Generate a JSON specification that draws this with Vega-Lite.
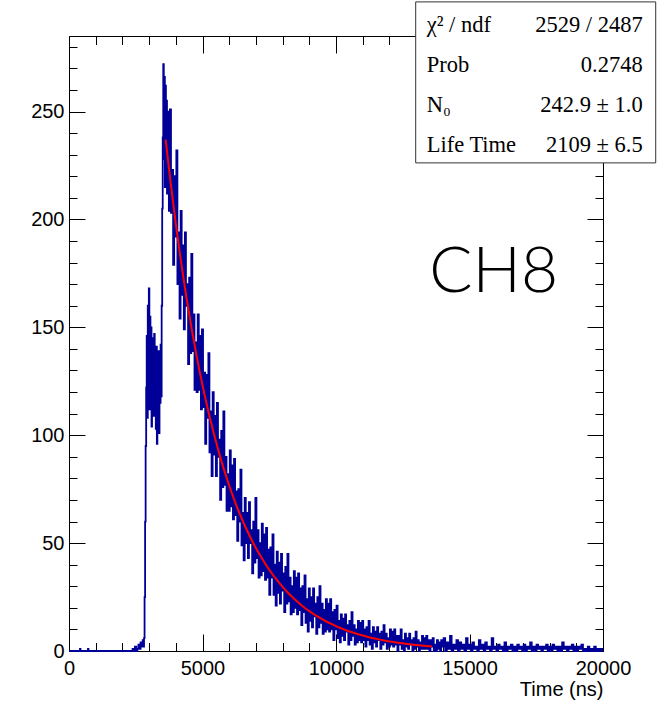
{
 "$schema": "https://vega.github.io/schema/vega-lite/v6.json",
 "width": 534, "height": 615,
 "autosize": {"type": "none"},
 "padding": {"left": 69, "top": 36, "right": 62, "bottom": 52},
 "background": "white",
 "config": {
  "view": {"stroke": "black", "strokeWidth": 1},
  "axis": {"grid": false, "domain": false, "tickColor": "black", "tickWidth": 1, "labelColor": "black", "labelFont": "Liberation Sans", "labelFontSize": 20, "titleFont": "Liberation Sans", "titleFontSize": 20, "titleFontWeight": "normal", "titleColor": "black", "labelFlush": false, "labelOverlap": false, "labelBound": false}
 },
 "datasets": {
  "hist": [
   {"t":0,"c":0},{"t":400,"c":0},{"t":420,"c":1},{"t":440,"c":0},{"t":700,"c":0},{"t":720,"c":1},{"t":740,"c":0},{"t":2360,"c":0},{"t":2400,"c":1},{"t":2440,"c":0},{"t":2500,"c":2},{"t":2540,"c":0},{"t":2580,"c":1},{"t":2620,"c":3},{"t":2660,"c":1},{"t":2700,"c":4},{"t":2740,"c":2},{"t":2780,"c":5},{"t":2800,"c":2},{"t":2820,"c":6},{"t":2840,"c":25},{"t":2860,"c":60},{"t":2880,"c":95},
   {"t":2900,"c":122},{"t":2920,"c":146},{"t":2940,"c":108},{"t":2960,"c":160},{"t":2980,"c":118},{"t":3000,"c":168},{"t":3020,"c":112},{"t":3040,"c":155},{"t":3060,"c":121},{"t":3080,"c":150},{"t":3100,"c":104},{"t":3120,"c":145},{"t":3140,"c":117},{"t":3160,"c":140},{"t":3180,"c":109},{"t":3200,"c":147},{"t":3220,"c":121},{"t":3240,"c":138},{"t":3260,"c":103},{"t":3280,"c":141},{"t":3300,"c":96},{"t":3320,"c":136},{"t":3340,"c":112},{"t":3360,"c":139},{"t":3380,"c":101},{"t":3400,"c":133},{"t":3420,"c":115},{"t":3440,"c":142},{"t":3460,"c":118},
   {"t":3480,"c":160},{"t":3500,"c":205},{"t":3520,"c":238},{"t":3540,"c":272},{"t":3560,"c":228},{"t":3580,"c":266},{"t":3600,"c":215},{"t":3620,"c":262},{"t":3640,"c":221},{"t":3660,"c":255},{"t":3680,"c":212},{"t":3700,"c":248},
   {"t":3720,"c":250},{"t":3760,"c":204},{"t":3800,"c":251},{"t":3840,"c":203},{"t":3880,"c":223},{"t":3920,"c":179},{"t":3960,"c":220},{"t":4000,"c":192},{"t":4040,"c":232},{"t":4080,"c":170},{"t":4120,"c":194},{"t":4160,"c":154},{"t":4200,"c":204},{"t":4240,"c":165},{"t":4280,"c":188},{"t":4320,"c":149},{"t":4360,"c":194},{"t":4400,"c":160},{"t":4440,"c":170},{"t":4480,"c":133},{"t":4520,"c":173},{"t":4560,"c":138},{"t":4600,"c":184},{"t":4640,"c":139},{"t":4680,"c":156},{"t":4720,"c":121},{"t":4760,"c":143},{"t":4800,"c":120},{"t":4840,"c":156},{"t":4880,"c":121},{"t":4920,"c":146},{"t":4960,"c":112},{"t":5000,"c":149},{"t":5040,"c":113},{"t":5080,"c":129},{"t":5120,"c":96},{"t":5160,"c":128},{"t":5200,"c":108},{"t":5240,"c":138},{"t":5280,"c":92},{"t":5320,"c":111},{"t":5360,"c":81},{"t":5400,"c":120},{"t":5440,"c":91},{"t":5480,"c":109},{"t":5520,"c":81},{"t":5560,"c":115},{"t":5600,"c":90},{"t":5640,"c":98},{"t":5680,"c":70},{"t":5720,"c":102},{"t":5760,"c":76},{"t":5800,"c":111},{"t":5840,"c":77},{"t":5880,"c":90},{"t":5920,"c":65},{"t":5960,"c":82},{"t":6000,"c":65},{"t":6040,"c":93},{"t":6080,"c":67},{"t":6120,"c":86},{"t":6160,"c":61},{"t":6200,"c":89},{"t":6240,"c":63},{"t":6280,"c":74},{"t":6320,"c":51},{"t":6360,"c":75},{"t":6400,"c":60},{"t":6440,"c":84},{"t":6480,"c":49},{"t":6520,"c":64},{"t":6560,"c":42},{"t":6600,"c":71},{"t":6640,"c":50},{"t":6680,"c":64},{"t":6720,"c":43},{"t":6760,"c":69},{"t":6800,"c":50},{"t":6840,"c":56},{"t":6880,"c":36},{"t":6920,"c":60},{"t":6960,"c":41},
   {"t":7000,"c":71},{"t":7040,"c":43},{"t":7080,"c":56},{"t":7120,"c":34},{"t":7160,"c":50},{"t":7200,"c":35},{"t":7240,"c":59},{"t":7280,"c":37},{"t":7320,"c":54},{"t":7360,"c":33},{"t":7400,"c":57},{"t":7440,"c":34},{"t":7480,"c":47},{"t":7520,"c":26},{"t":7560,"c":48},{"t":7600,"c":34},{"t":7640,"c":54},{"t":7680,"c":26},{"t":7720,"c":40},{"t":7760,"c":21},{"t":7800,"c":46},{"t":7840,"c":27},{"t":7880,"c":41},{"t":7920,"c":22},{"t":7960,"c":45},{"t":8000,"c":28},{"t":8040,"c":36},{"t":8080,"c":18},{"t":8120,"c":39},{"t":8160,"c":22},{"t":8200,"c":45},{"t":8240,"c":23},{"t":8280,"c":34},{"t":8320,"c":17},{"t":8360,"c":30},{"t":8400,"c":18},{"t":8440,"c":37},{"t":8480,"c":20},{"t":8520,"c":34},{"t":8560,"c":17},{"t":8600,"c":36},{"t":8640,"c":19},{"t":8680,"c":29},{"t":8720,"c":12},{"t":8760,"c":30},{"t":8800,"c":18},{"t":8840,"c":35},{"t":8880,"c":13},{"t":8920,"c":24},{"t":8960,"c":9},{"t":9000,"c":29},{"t":9040,"c":14},{"t":9080,"c":25},{"t":9120,"c":11},{"t":9160,"c":29},{"t":9200,"c":16},{"t":9240,"c":22},{"t":9280,"c":8},{"t":9320,"c":25},{"t":9360,"c":11},{"t":9400,"c":30},{"t":9440,"c":13},{"t":9480,"c":22},{"t":9520,"c":8},{"t":9560,"c":19},{"t":9600,"c":9},{"t":9640,"c":24},{"t":9680,"c":10},{"t":9720,"c":22},{"t":9760,"c":9},{"t":9800,"c":24},{"t":9840,"c":10},{"t":9880,"c":18},{"t":9920,"c":5},{"t":9960,"c":19},
   {"t":10000,"c":10},{"t":10040,"c":21},{"t":10080,"c":6},{"t":10120,"c":14},{"t":10160,"c":4},{"t":10200,"c":17},{"t":10240,"c":7},{"t":10280,"c":15},{"t":10320,"c":5},{"t":10360,"c":17},{"t":10400,"c":9},{"t":10440,"c":12},{"t":10480,"c":3},{"t":10520,"c":14},{"t":10560,"c":5},{"t":10600,"c":18},{"t":10640,"c":7},{"t":10680,"c":12},{"t":10720,"c":3},{"t":10760,"c":10},{"t":10800,"c":4},{"t":10840,"c":14},{"t":10880,"c":5},{"t":10920,"c":13},{"t":10960,"c":4},{"t":11000,"c":14},{"t":11040,"c":5},{"t":11080,"c":10},{"t":11120,"c":2},{"t":11160,"c":11},{"t":11200,"c":5},{"t":11240,"c":14},{"t":11280,"c":3},{"t":11320,"c":8},{"t":11360,"c":1},{"t":11400,"c":11},{"t":11440,"c":4},{"t":11480,"c":9},{"t":11520,"c":2},{"t":11560,"c":11},{"t":11600,"c":5},{"t":11640,"c":8},{"t":11680,"c":1},{"t":11720,"c":9},{"t":11760,"c":3},{"t":11800,"c":12},{"t":11840,"c":4},{"t":11880,"c":8},{"t":11920,"c":1},{"t":11960,"c":6},{"t":12000,"c":2},{"t":12040,"c":10},{"t":12080,"c":3},{"t":12120,"c":9},{"t":12160,"c":2},{"t":12200,"c":10},{"t":12240,"c":3},{"t":12280,"c":7},{"t":12320,"c":0},{"t":12360,"c":7},{"t":12400,"c":3},{"t":12440,"c":10},{"t":12480,"c":1},{"t":12520,"c":5},{"t":12560,"c":0},{"t":12600,"c":8},{"t":12640,"c":2},{"t":12680,"c":6},{"t":12720,"c":1},{"t":12760,"c":8},{"t":12800,"c":3},{"t":12840,"c":5},{"t":12880,"c":0},{"t":12920,"c":6},{"t":12960,"c":1},{"t":13000,"c":9},{"t":13040,"c":2},{"t":13080,"c":5},{"t":13120,"c":0},{"t":13160,"c":4},{"t":13200,"c":1},{"t":13240,"c":7},{"t":13280,"c":1},{"t":13320,"c":6},{"t":13360,"c":1},{"t":13400,"c":7},{"t":13440,"c":1},{"t":13480,"c":5},{"t":13520,"c":0},{"t":13560,"c":5},{"t":13600,"c":2},{"t":13640,"c":6},{"t":13680,"c":0},{"t":13720,"c":3},{"t":13760,"c":0},{"t":13800,"c":5},{"t":13840,"c":1},{"t":13880,"c":4},{"t":13920,"c":0},{"t":13960,"c":5},
   {"t":14000,"c":2},{"t":14060,"c":6},{"t":14120,"c":0},{"t":14180,"c":4},{"t":14240,"c":1},{"t":14300,"c":7},{"t":14360,"c":0},{"t":14420,"c":3},{"t":14480,"c":1},{"t":14540,"c":5},{"t":14600,"c":0},{"t":14660,"c":4},{"t":14720,"c":1},{"t":14780,"c":3},{"t":14840,"c":0},{"t":14900,"c":6},{"t":14960,"c":1},{"t":15020,"c":3},{"t":15080,"c":0},{"t":15140,"c":4},{"t":15200,"c":1},{"t":15260,"c":2},{"t":15320,"c":0},{"t":15380,"c":5},{"t":15440,"c":1},{"t":15500,"c":3},{"t":15560,"c":0},{"t":15620,"c":4},{"t":15680,"c":1},{"t":15740,"c":2},{"t":15800,"c":0},{"t":15860,"c":6},{"t":15920,"c":1},{"t":15980,"c":2},{"t":16040,"c":0},{"t":16100,"c":3},{"t":16160,"c":1},{"t":16220,"c":2},{"t":16280,"c":0},{"t":16340,"c":4},{"t":16400,"c":0},{"t":16460,"c":2},{"t":16520,"c":1},{"t":16580,"c":3},{"t":16640,"c":0},{"t":16700,"c":2},{"t":16760,"c":0},{"t":16820,"c":3},{"t":16880,"c":1},{"t":16940,"c":2},{"t":17000,"c":0},{"t":17060,"c":3},{"t":17120,"c":0},{"t":17180,"c":2},{"t":17240,"c":1},{"t":17300,"c":4},{"t":17360,"c":0},{"t":17420,"c":2},{"t":17480,"c":0},{"t":17540,"c":3},{"t":17600,"c":1},{"t":17660,"c":2},{"t":17720,"c":0},{"t":17780,"c":2},{"t":17840,"c":1},{"t":17900,"c":3},{"t":17960,"c":0},{"t":18020,"c":2},{"t":18080,"c":0},{"t":18140,"c":3},{"t":18200,"c":1},{"t":18260,"c":2},{"t":18320,"c":0},{"t":18380,"c":2},{"t":18440,"c":0},{"t":18500,"c":4},{"t":18560,"c":1},{"t":18620,"c":2},{"t":18680,"c":0},{"t":18740,"c":2},{"t":18800,"c":1},{"t":18860,"c":3},{"t":18920,"c":0},{"t":18980,"c":2},{"t":19040,"c":0},{"t":19100,"c":2},{"t":19160,"c":1},{"t":19220,"c":3},{"t":19280,"c":0},{"t":19340,"c":1},{"t":19400,"c":0},{"t":19460,"c":2},{"t":19520,"c":0},{"t":19580,"c":1},{"t":19640,"c":0},{"t":19700,"c":2},{"t":19760,"c":0},{"t":19820,"c":1},{"t":19880,"c":0},{"t":19940,"c":1},{"t":20000,"c":0}
  ],
  "fit": [
   {"t":3620,"f":237.0},{"t":3800,"f":217.6},{"t":4000,"f":197.9},{"t":4200,"f":180.0},{"t":4400,"f":163.7},{"t":4600,"f":148.9},{"t":4800,"f":135.4},{"t":5000,"f":123.2},{"t":5200,"f":112.0},{"t":5400,"f":101.9},{"t":5600,"f":92.7},{"t":5800,"f":84.3},{"t":6000,"f":76.7},{"t":6200,"f":69.7},{"t":6400,"f":63.4},{"t":6600,"f":57.7},{"t":6800,"f":52.5},{"t":7000,"f":47.7},{"t":7200,"f":43.4},{"t":7400,"f":39.5},{"t":7600,"f":35.9},{"t":7800,"f":32.7},{"t":8000,"f":29.7},{"t":8200,"f":27.0},{"t":8400,"f":24.6},{"t":8600,"f":22.4},{"t":8800,"f":20.3},{"t":9000,"f":18.5},{"t":9200,"f":16.8},{"t":9400,"f":15.3},{"t":9600,"f":13.9},{"t":9800,"f":12.7},{"t":10000,"f":11.5},{"t":10200,"f":10.5},{"t":10400,"f":9.52},{"t":10600,"f":8.66},{"t":10800,"f":7.88},{"t":11000,"f":7.16},{"t":11200,"f":6.52},{"t":11400,"f":5.93},{"t":11600,"f":5.39},{"t":11800,"f":4.9},{"t":12000,"f":4.46},{"t":12200,"f":4.06},{"t":12400,"f":3.69},{"t":12600,"f":3.36},{"t":12800,"f":3.05},{"t":13000,"f":2.78},{"t":13200,"f":2.53},{"t":13400,"f":2.3},{"t":13600,"f":2.09}
  ]
 },
 "resolve": {"axis": {"x": "independent", "y": "independent"}},
 "layer": [
  {
   "data": {"name": "hist"},
   "mark": {"type": "line", "interpolate": "step", "color": "#000099", "strokeWidth": 1.8},
   "encoding": {
    "x": {"field": "t", "type": "quantitative", "scale": {"domain": [0, 20000], "nice": false, "zero": false},
          "axis": {"orient": "bottom", "values": [0, 5000, 10000, 15000, 20000], "format": "d", "ticks": false, "labelPadding": 7, "title": "Time (ns)", "titleAnchor": "end", "titlePadding": 1}},
    "y": {"field": "c", "type": "quantitative", "scale": {"domain": [0, 285], "nice": false},
          "axis": {"orient": "left", "values": [0, 50, 100, 150, 200, 250], "format": "d", "ticks": false, "labelPadding": 5, "title": null}}
   }
  },
  {
   "data": {"name": "fit"},
   "mark": {"type": "line", "interpolate": "monotone", "color": "#ff0000", "strokeWidth": 2},
   "encoding": {
    "x": {"field": "t", "type": "quantitative", "scale": {"domain": [0, 20000], "nice": false, "zero": false},
          "axis": {"orient": "bottom", "values": [0,1000,2000,3000,4000,5000,6000,7000,8000,9000,10000,11000,12000,13000,14000,15000,16000,17000,18000,19000,20000], "labels": false, "tickSize": -8.5, "title": null}},
    "y": {"field": "f", "type": "quantitative", "scale": {"domain": [0, 285], "nice": false},
          "axis": {"orient": "left", "values": [0,10,20,30,40,50,60,70,80,90,100,110,120,130,140,150,160,170,180,190,200,210,220,230,240,250,260,270,280], "labels": false, "tickSize": -8, "title": null}}
   }
  },
  {
   "data": {"values": [{"box": "stats"}]},
   "mark": {"type": "rect", "fill": "white", "stroke": "#333333", "strokeWidth": 1},
   "encoding": {
    "x": {"datum": 12985, "type": "quantitative", "scale": {"domain": [0, 20000], "nice": false, "zero": false},
          "axis": {"orient": "bottom", "values": [0, 5000, 10000, 15000, 20000], "labels": false, "tickSize": -17, "title": null}},
    "x2": {"datum": 21974},
    "y": {"datum": 300.8, "type": "quantitative", "scale": {"domain": [0, 285], "nice": false},
          "axis": {"orient": "left", "values": [0, 50, 100, 150, 200, 250], "labels": false, "tickSize": -16, "title": null}},
    "y2": {"datum": 226.2}
   }
  },
  {
   "data": {"values": [{"box": "stats"}]},
   "mark": {"type": "text", "text": ["χ² / ndf", "Prob", "N₀", "Life Time"], "align": "left", "baseline": "middle", "font": "Liberation Serif", "fontSize": 22.5, "lineHeight": 40, "color": "black"},
   "encoding": {
    "x": {"datum": 13397, "type": "quantitative", "scale": {"domain": [0, 20000], "nice": false, "zero": false},
          "axis": {"orient": "top", "values": [0,1000,2000,3000,4000,5000,6000,7000,8000,9000,10000,11000,12000,13000,14000,15000,16000,17000,18000,19000,20000], "labels": false, "tickSize": -8.5, "title": null}},
    "y": {"datum": 290.0, "type": "quantitative", "scale": {"domain": [0, 285], "nice": false},
          "axis": {"orient": "right", "values": [0,10,20,30,40,50,60,70,80,90,100,110,120,130,140,150,160,170,180,190,200,210,220,230,240,250,260,270,280], "labels": false, "tickSize": -8, "title": null}}
   }
  },
  {
   "data": {"values": [{"box": "stats"}]},
   "mark": {"type": "text", "text": ["2529 / 2487", "0.2748", "242.9 ± 1.0", "2109 ± 6.5"], "align": "right", "baseline": "middle", "font": "Liberation Serif", "fontSize": 22.5, "lineHeight": 40, "color": "black"},
   "encoding": {
    "x": {"datum": 21487, "type": "quantitative", "scale": {"domain": [0, 20000], "nice": false, "zero": false},
          "axis": {"orient": "top", "values": [0, 5000, 10000, 15000, 20000], "labels": false, "tickSize": -17, "title": null}},
    "y": {"datum": 290.0, "type": "quantitative", "scale": {"domain": [0, 285], "nice": false},
          "axis": {"orient": "right", "values": [0, 50, 100, 150, 200, 250], "labels": false, "tickSize": -16, "title": null}}
   }
  },
  {
   "data": {"values": [{"label": "CH8"}]},
   "mark": {"type": "text", "align": "center", "baseline": "alphabetic", "font": "Lato", "fontSize": 64, "fontWeight": 300, "color": "black"},
   "encoding": {
    "x": {"datum": 15906, "type": "quantitative", "scale": {"domain": [0, 20000], "nice": false, "zero": false}, "axis": null},
    "y": {"datum": 166.4, "type": "quantitative", "scale": {"domain": [0, 285], "nice": false}, "axis": null},
    "text": {"field": "label"}
   }
  }
 ]
}
